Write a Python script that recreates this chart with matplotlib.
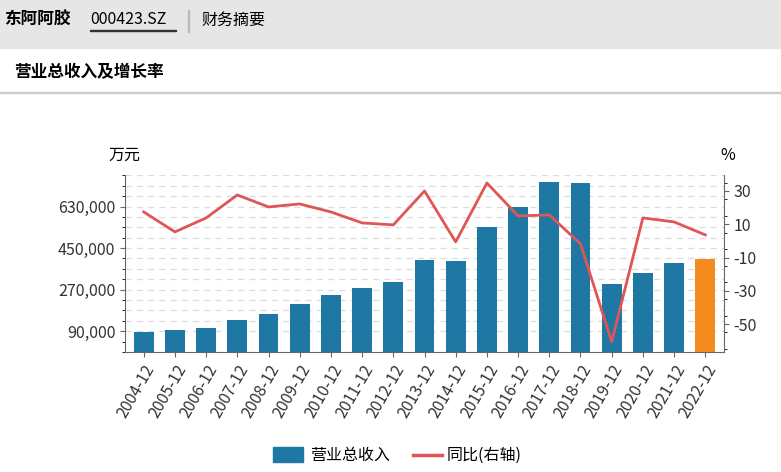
import matplotlib
matplotlib.use("Agg")
import matplotlib.pyplot as plt
from matplotlib.patches import Rectangle
import numpy as np

plt.rcParams['font.family'] = ['Noto Sans CJK SC']

years = ["2004-12","2005-12","2006-12","2007-12","2008-12","2009-12","2010-12","2011-12","2012-12","2013-12",
         "2014-12","2015-12","2016-12","2017-12","2018-12","2019-12","2020-12","2021-12","2022-12"]
revenue = [86000,94000,106000,138000,166000,207000,247000,275000,303000,400000,
           396000,541000,630000,737000,734000,296000,341000,385000,404000]
yoy = [17.4,5.4,13.8,27.6,20.4,22.2,17.4,10.8,9.6,30.0,-0.6,34.8,15.0,15.6,-1.8,-60.6,13.8,11.4,3.6]
left_ticks = [90000,270000,450000,630000]
right_ticks = [30,10,-10,-30,-50]

W, H = 781, 472
fig = plt.figure(figsize=(W/100, H/100), dpi=100)
fig.patches.append(Rectangle((0, 1-48/H), 1, 48/H, transform=fig.transFigure, color="#e6e6e6", zorder=0))
fig.patches.append(Rectangle((0, 1-93/H), 1, 1/H, transform=fig.transFigure, color="#cccccc", zorder=0))
fig.text(4/W, 1-20/H, "东阿阿胶", fontsize=12, fontweight="bold", va="center")
fig.text(90/W, 1-20/H, "000423.SZ", fontsize=11.5, va="center")
fig.patches.append(Rectangle((90/W, 1-31/H), 86/W, 1/H, transform=fig.transFigure, color="#333333"))
fig.patches.append(Rectangle((188/W, 1-32/H), 1/W, 22/H, transform=fig.transFigure, color="#bbbbbb"))
fig.text(201/W, 1-20/H, "财务摘要", fontsize=11.5, va="center")
fig.text(14/W, 1-72/H, "营业总收入及增长率", fontsize=12, fontweight="bold", va="center")

ax = fig.add_axes([125/W, 1-352/H, (724-125)/W, (352-175)/H])
x = np.arange(len(years))
colors = ["#1f77a4"]*(len(years)-1) + ["#f58a1f"]
ax.bar(x, revenue, width=0.64, color=colors, zorder=2)
ax.set_ylim(55000, 766500)
ax.set_xlim(-0.6, len(years)-0.4)
ax.set_yticks(left_ticks)
ax.set_yticklabels([f"{v:,}" for v in left_ticks], fontsize=11.5, color="#333333")
ax.set_yticks(np.arange(0, 766500, 45000), minor=True)
for v in np.arange(90000, 766500, 45000):
    ax.axhline(v, color="#dddddd", ls=(0, (5, 4)), lw=0.9, zorder=1)
ax.set_xticks(x)
ax.set_xticklabels(years, rotation=60, ha="right", rotation_mode="anchor", fontsize=11.5, color="#333333")
for s in ["top", "right"]:
    ax.spines[s].set_visible(False)
ax.spines["left"].set_color("#666666")
ax.spines["bottom"].set_color("#666666")
ax.tick_params(colors="#666666", labelcolor="#333333")

ax2 = ax.twinx()
ax2.plot(x, yoy, color="#e05555", lw=2, zorder=3)
ax2.set_ylim(-66.8, 39.6)
ax2.set_yticks(right_ticks)
ax2.set_yticklabels([str(v) for v in right_ticks], fontsize=11.5, color="#333333")
ax2.set_yticks(np.arange(-65, 40, 10), minor=True)
for s in ["top", "left", "bottom"]:
    ax2.spines[s].set_visible(False)
ax2.spines["right"].set_color("#666666")
ax2.tick_params(colors="#666666", labelcolor="#333333")

fig.text(108/W, 1-155/H, "万元", fontsize=11.5, va="center")
fig.text(720/W, 1-155/H, "%", fontsize=11.5, va="center")

fig.patches.append(Rectangle((273/W, 1-462/H), 30/W, 15/H, transform=fig.transFigure, color="#1f77a4"))
fig.text(310/W, 1-455/H, "营业总收入", fontsize=11.5, va="center")
fig.lines.append(plt.Line2D([413/W, 442/W], [1-455/H, 1-455/H], transform=fig.transFigure, color="#e05555", lw=2.5))
fig.text(447/W, 1-455/H, "同比(右轴)", fontsize=11.5, va="center")

fig.savefig("out.png", dpi=100, facecolor="white")
